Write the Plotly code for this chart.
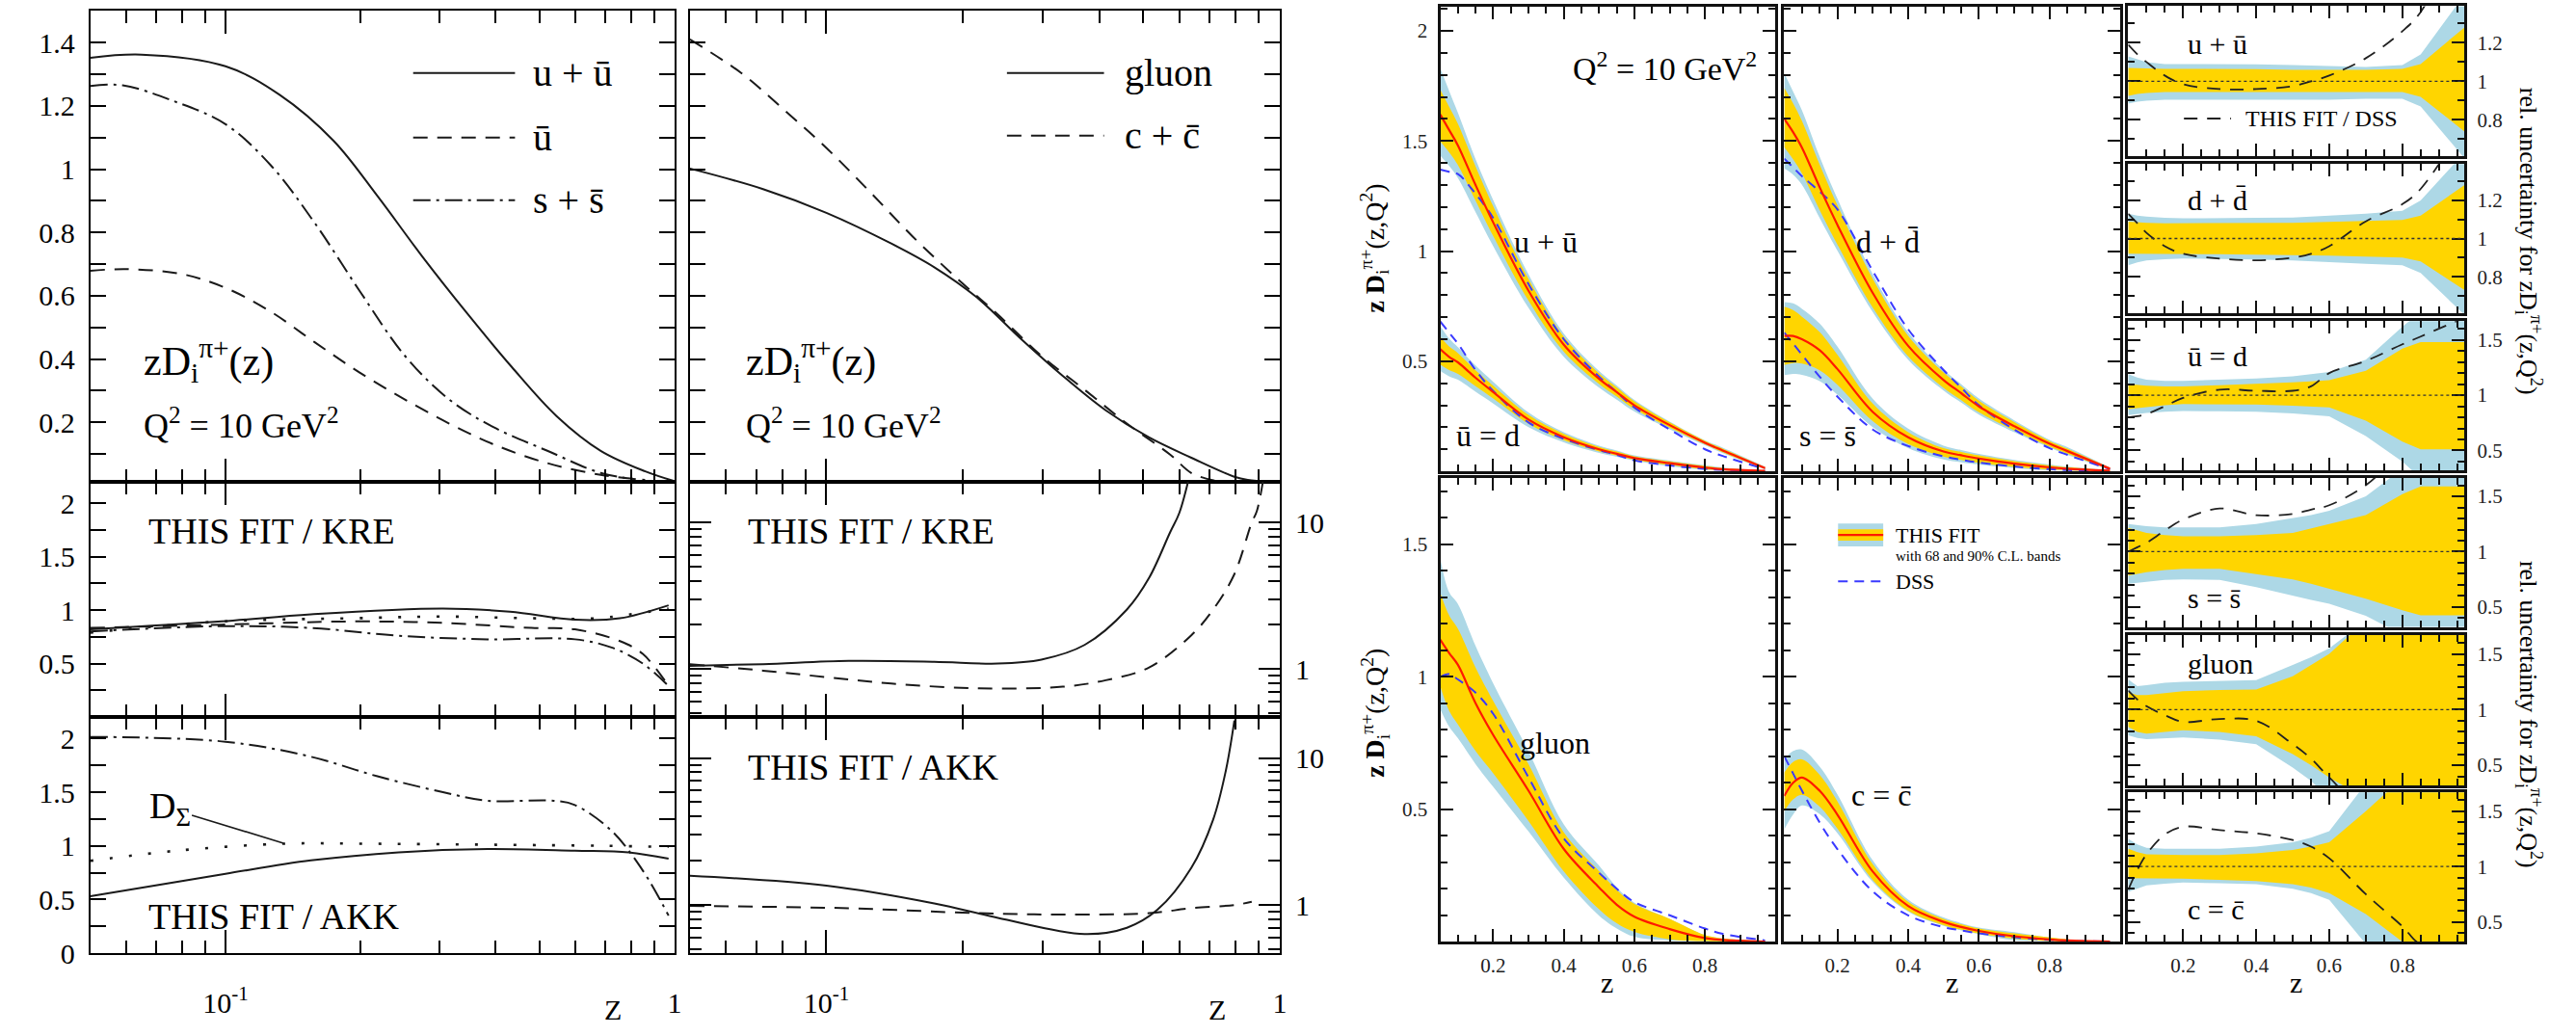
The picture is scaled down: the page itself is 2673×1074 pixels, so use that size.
import numpy as np
import plotly.graph_objects as go

W, H = 2673, 1074
SERIF = "Liberation Serif"

# ======================= LEFT FIGURE DATA =======================
# top-left panel: zD_i^{pi+}(z), Q^2 = 10 GeV^2
z_uu_top = [0.05, 0.065, 0.1, 0.132, 0.174, 0.218, 0.274, 0.345, 0.434, 0.546, 0.685, 0.861, 0.995]
uu_top = [1.352, 1.362, 1.325, 1.235, 1.09, 0.915, 0.725, 0.545, 0.375, 0.22, 0.11, 0.045, 0.015]
z_ub_top = [0.05, 0.0605, 0.0796, 0.1, 0.126, 0.158, 0.199, 0.251, 0.315, 0.396, 0.521, 0.685, 0.86]
ub_top = [0.679, 0.684, 0.669, 0.625, 0.55, 0.453, 0.357, 0.272, 0.196, 0.13, 0.071, 0.034, 0.018]
z_ss_top = [0.05, 0.059, 0.076, 0.1, 0.126, 0.158, 0.199, 0.251, 0.315, 0.396, 0.521, 0.685, 0.82]
ss_top = [1.263, 1.265, 1.217, 1.142, 1.013, 0.83, 0.615, 0.41, 0.272, 0.184, 0.11, 0.04, 0.02]
# top-right panel
z_g_top = [0.05, 0.0725, 0.1, 0.139, 0.173, 0.215, 0.268, 0.332, 0.413, 0.515, 0.638, 0.794, 0.85, 0.95]
g_top = [1.002, 0.937, 0.862, 0.765, 0.69, 0.594, 0.465, 0.347, 0.238, 0.152, 0.088, 0.028, 0.018, 0.012]
z_c_top = [0.05, 0.065, 0.081, 0.1, 0.125, 0.155, 0.193, 0.239, 0.298, 0.371, 0.46, 0.573, 0.638, 0.72]
c_top = [1.41, 1.303, 1.185, 1.067, 0.927, 0.787, 0.658, 0.54, 0.41, 0.303, 0.196, 0.098, 0.04, 0.015]

# THIS FIT / KRE (light flavours)
z_kre_uu = [0.05, 0.098, 0.155, 0.305, 0.43, 0.60, 0.756, 0.97]
kre_uu = [0.82, 0.894, 0.96, 1.015, 0.985, 0.91, 0.924, 1.045]
z_kre_ub = [0.05, 0.098, 0.194, 0.305, 0.48, 0.60, 0.756, 0.85, 0.97]
kre_ub = [0.833, 0.864, 0.894, 0.88, 0.833, 0.82, 0.71, 0.59, 0.29]
z_kre_ss = [0.05, 0.098, 0.155, 0.243, 0.383, 0.60, 0.724, 0.85, 0.97]
kre_ss = [0.80, 0.85, 0.833, 0.76, 0.727, 0.727, 0.65, 0.50, 0.29]
z_kre_sig = [0.05, 0.098, 0.194, 0.305, 0.48, 0.67, 0.97]
kre_sig = [0.79, 0.894, 0.924, 0.94, 0.924, 0.924, 1.015]
# THIS FIT / AKK (light flavours)
z_akk_ss = [0.05, 0.1, 0.155, 0.217, 0.305, 0.383, 0.538, 0.60, 0.724, 0.85, 0.97]
akk_ss = [2.015, 1.97, 1.83, 1.65, 1.50, 1.42, 1.42, 1.38, 1.14, 0.77, 0.35]
z_akk_sig = [0.05, 0.078, 0.135, 0.2, 0.4, 0.7, 0.97]
akk_sig = [0.86, 0.955, 1.02, 1.02, 1.01, 1.0, 0.99]
z_akk_uu = [0.05, 0.1, 0.155, 0.243, 0.383, 0.60, 0.79, 0.97]
akk_uu = [0.53, 0.74, 0.864, 0.94, 0.97, 0.955, 0.94, 0.88]
# THIS FIT / KRE (gluon, charm), log scale
z_kre_g = [0.05, 0.0725, 0.112, 0.173, 0.239, 0.298, 0.371, 0.46, 0.515, 0.573, 0.6, 0.63]
kre_g = [1.05, 1.08, 1.135, 1.12, 1.09, 1.16, 1.46, 2.55, 4.2, 8.6, 11.6, 20.0]
z_kre_c = [0.05, 0.0725, 0.1, 0.139, 0.215, 0.332, 0.413, 0.515, 0.638, 0.713, 0.794, 0.867, 0.89, 0.92]
kre_c = [1.08, 0.975, 0.88, 0.796, 0.738, 0.757, 0.838, 1.025, 1.7, 2.55, 4.45, 10.0, 12.0, 20.0]
# THIS FIT / AKK (gluon, charm)
z_akk_g = [0.05, 0.1, 0.173, 0.239, 0.371, 0.46, 0.537, 0.638, 0.713, 0.76, 0.794]
akk_g = [1.58, 1.355, 1.025, 0.817, 0.634, 0.70, 0.927, 1.79, 3.82, 8.17, 18.0]
z_akk_c = [0.05, 0.112, 0.215, 0.332, 0.515, 0.638, 0.794, 0.867]
akk_c = [0.985, 0.95, 0.88, 0.86, 0.88, 0.95, 1.0, 1.05]

# ======================= RIGHT FIGURE DATA =======================
Z = [0.05, 0.075, 0.1, 0.15, 0.2, 0.3, 0.4, 0.5, 0.55, 0.6, 0.7, 0.8, 0.85, 0.97]
# central values (THIS FIT)
uu_c = [1.62, 1.55, 1.48, 1.30, 1.13, 0.82, 0.575, 0.42, 0.36, 0.30, 0.21, 0.13, 0.095, 0.015]
dd_c = [1.60, 1.54, 1.47, 1.29, 1.12, 0.81, 0.57, 0.415, 0.355, 0.295, 0.205, 0.125, 0.092, 0.012]
ud_c = [0.555, 0.52, 0.495, 0.425, 0.36, 0.235, 0.155, 0.10, 0.08, 0.06, 0.037, 0.017, 0.01, 0.002]
ss_c = [0.615, 0.615, 0.60, 0.55, 0.465, 0.27, 0.155, 0.09, 0.073, 0.058, 0.035, 0.018, 0.012, 0.003]
g_c = [1.14, 1.09, 1.045, 0.90, 0.78, 0.57, 0.35, 0.205, 0.14, 0.095, 0.048, 0.014, 0.007, 0.001]
c_c = [0.55, 0.60, 0.62, 0.57, 0.48, 0.265, 0.135, 0.075, 0.056, 0.041, 0.021, 0.009, 0.005, 0.001]
# DSS
uu_dss = [1.37, 1.36, 1.35, 1.26, 1.15, 0.85, 0.60, 0.43, 0.36, 0.29, 0.19, 0.10, 0.07, 0.01]
dd_dss = [1.42, 1.38, 1.34, 1.27, 1.19, 0.91, 0.645, 0.46, 0.38, 0.30, 0.19, 0.105, 0.075, 0.01]
ud_dss = [0.68, 0.63, 0.58, 0.46, 0.365, 0.222, 0.148, 0.096, 0.075, 0.05, 0.027, 0.011, 0.007, 0.001]
ss_dss = [0.63, 0.58, 0.53, 0.43, 0.34, 0.19, 0.115, 0.068, 0.053, 0.04, 0.022, 0.01, 0.006, 0.001]
g_dss = [1.0, 1.01, 0.99, 0.94, 0.86, 0.62, 0.39, 0.26, 0.20, 0.15, 0.10, 0.05, 0.03, 0.005]
c_dss = [0.70, 0.635, 0.57, 0.45, 0.35, 0.19, 0.10, 0.055, 0.043, 0.032, 0.017, 0.007, 0.004, 0.001]
# THIS FIT / DSS
uu_r = [1.19, 1.14, 1.10, 1.03, 0.985, 0.96, 0.96, 0.975, 1.0, 1.03, 1.12, 1.26, 1.36, 1.8]
dd_r = [1.13, 1.08, 1.03, 0.96, 0.92, 0.895, 0.886, 0.90, 0.92, 0.96, 1.09, 1.18, 1.26, 1.6]
ud_r = [0.80, 0.81, 0.83, 0.90, 0.975, 1.05, 1.04, 1.04, 1.08, 1.20, 1.31, 1.46, 1.53, 1.7]
ss_r = [1.0, 1.04, 1.08, 1.19, 1.29, 1.39, 1.33, 1.34, 1.38, 1.42, 1.60, 1.9, 2.0, 2.0]
g_r = [1.17, 1.09, 1.03, 0.95, 0.89, 0.915, 0.90, 0.69, 0.56, 0.39, 0.1, 0.1, 0.1, 0.1]
c_r = [0.79, 0.97, 1.11, 1.29, 1.36, 1.33, 1.30, 1.24, 1.18, 1.075, 0.75, 0.46, 0.3, 0.3]
# relative uncertainty bands: 90% (blue) and 68% (yellow)
uu_b_hi = [1.13, 1.115, 1.10, 1.09, 1.09, 1.09, 1.088, 1.085, 1.083, 1.08, 1.075, 1.085, 1.14, 1.45]
uu_y_hi = [1.07, 1.068, 1.066, 1.065, 1.065, 1.065, 1.063, 1.06, 1.06, 1.06, 1.06, 1.065, 1.09, 1.28]
uu_y_lo = [0.925, 0.935, 0.94, 0.945, 0.945, 0.945, 0.945, 0.945, 0.945, 0.945, 0.945, 0.945, 0.92, 0.74]
uu_b_lo = [0.885, 0.895, 0.90, 0.905, 0.905, 0.905, 0.905, 0.905, 0.905, 0.905, 0.91, 0.91, 0.87, 0.60]
dd_b_hi = [1.13, 1.12, 1.115, 1.108, 1.106, 1.106, 1.108, 1.11, 1.115, 1.12, 1.13, 1.145, 1.2, 1.45]
dd_y_hi = [1.088, 1.085, 1.082, 1.08, 1.08, 1.08, 1.08, 1.082, 1.085, 1.088, 1.092, 1.097, 1.12, 1.28]
dd_y_lo = [0.92, 0.92, 0.92, 0.92, 0.92, 0.918, 0.916, 0.914, 0.912, 0.91, 0.905, 0.90, 0.88, 0.73]
dd_b_lo = [0.86, 0.875, 0.885, 0.892, 0.895, 0.893, 0.89, 0.885, 0.88, 0.875, 0.868, 0.86, 0.82, 0.60]
ud_b_hi = [1.19, 1.16, 1.14, 1.13, 1.13, 1.14, 1.15, 1.17, 1.19, 1.21, 1.32, 1.62, 1.75, 1.75]
ud_y_hi = [1.10, 1.09, 1.085, 1.08, 1.08, 1.09, 1.10, 1.115, 1.125, 1.135, 1.22, 1.42, 1.48, 1.48]
ud_y_lo = [0.875, 0.885, 0.895, 0.91, 0.92, 0.92, 0.915, 0.905, 0.90, 0.89, 0.77, 0.58, 0.51, 0.51]
ud_b_lo = [0.82, 0.83, 0.84, 0.85, 0.856, 0.855, 0.85, 0.835, 0.825, 0.81, 0.63, 0.40, 0.25, 0.25]
ss_b_hi = [1.25, 1.24, 1.23, 1.22, 1.22, 1.22, 1.25, 1.30, 1.33, 1.37, 1.50, 1.75, 1.8, 1.8]
ss_y_hi = [1.215, 1.19, 1.17, 1.15, 1.14, 1.14, 1.15, 1.17, 1.21, 1.25, 1.33, 1.52, 1.59, 1.59]
ss_y_lo = [0.785, 0.80, 0.815, 0.835, 0.845, 0.845, 0.80, 0.75, 0.71, 0.665, 0.575, 0.47, 0.425, 0.425]
ss_b_lo = [0.71, 0.72, 0.73, 0.745, 0.75, 0.745, 0.68, 0.60, 0.565, 0.53, 0.42, 0.25, 0.2, 0.2]
g_b_hi = [1.27, 1.21, 1.22, 1.24, 1.25, 1.26, 1.265, 1.40, 1.47, 1.55, 1.8, 1.8, 1.8, 1.8]
g_y_hi = [1.155, 1.13, 1.13, 1.15, 1.165, 1.175, 1.18, 1.30, 1.40, 1.5, 1.8, 1.8, 1.8, 1.8]
g_y_lo = [0.845, 0.80, 0.785, 0.80, 0.815, 0.80, 0.76, 0.60, 0.50, 0.39, 0.2, 0.2, 0.2, 0.2]
g_b_lo = [0.77, 0.745, 0.735, 0.745, 0.75, 0.73, 0.69, 0.48, 0.36, 0.2, 0.1, 0.1, 0.1, 0.1]
c_b_hi = [1.25, 1.20, 1.17, 1.16, 1.16, 1.16, 1.18, 1.22, 1.26, 1.32, 1.75, 1.8, 1.8, 1.8]
c_y_hi = [1.16, 1.13, 1.11, 1.105, 1.105, 1.105, 1.12, 1.15, 1.18, 1.22, 1.50, 1.8, 1.8, 1.8]
c_y_lo = [0.895, 0.895, 0.895, 0.895, 0.89, 0.88, 0.87, 0.84, 0.81, 0.76, 0.57, 0.32, 0.2, 0.2]
c_b_lo = [0.77, 0.80, 0.83, 0.845, 0.855, 0.85, 0.84, 0.80, 0.76, 0.70, 0.30, 0.2, 0.2, 0.2]

# ======================= STYLE =======================
INK = "#1a1a1a"
BLUE_BAND = "#ADD8E6"
YELLOW_BAND = "#FFD500"
RED = "#ff1a00"
DSS_BLUE = "#3a3aff"
DASH = "15px,10px"
DASHDOT = "18px,6px,3px,6px"
DOTS = "3px,17px"

fig = go.Figure()


def xa(n):
    return "x" if n == 1 else f"x{n}"


def ya(n):
    return "y" if n == 1 else f"y{n}"


def line(n, x, y, color=INK, width=2.0, dash="solid", shape="spline"):
    fig.add_trace(go.Scatter(x=x, y=y, mode="lines", xaxis=xa(n), yaxis=ya(n),
                             line=dict(color=color, width=width, dash=dash, shape=shape),
                             showlegend=False, hoverinfo="skip"))


def band(n, x, lo, hi, color, shape):
    fig.add_trace(go.Scatter(x=x, y=lo, mode="lines", xaxis=xa(n), yaxis=ya(n),
                             line=dict(color=color, width=0, shape=shape),
                             showlegend=False, hoverinfo="skip"))
    fig.add_trace(go.Scatter(x=x, y=hi, mode="lines", xaxis=xa(n), yaxis=ya(n),
                             line=dict(color=color, width=0, shape=shape), fill="tonexty",
                             fillcolor=color, showlegend=False, hoverinfo="skip"))


# ---------------- left figure traces ----------------
line(1, z_uu_top, uu_top)
line(1, z_ub_top, ub_top, dash=DASH)
line(1, z_ss_top, ss_top, dash=DASHDOT)
line(2, z_g_top, g_top)
line(2, z_c_top, c_top, dash=DASH)
line(3, z_kre_uu, kre_uu)
line(3, z_kre_ub, kre_ub, dash=DASH)
line(3, z_kre_ss, kre_ss, dash=DASHDOT)
line(3, z_kre_sig, kre_sig, dash=DOTS, width=2.6)
line(5, z_akk_ss, akk_ss, dash=DASHDOT)
line(5, z_akk_sig, akk_sig, dash=DOTS, width=2.6)
line(5, z_akk_uu, akk_uu)
line(4, z_kre_g, kre_g)
line(4, z_kre_c, kre_c, dash=DASH)
line(6, z_akk_g, akk_g)
line(6, z_akk_c, akk_c, dash=DASH)

# ---------------- right figure traces ----------------
flav = {
    "uu": (uu_c, uu_dss, uu_r, uu_b_lo, uu_b_hi, uu_y_lo, uu_y_hi),
    "dd": (dd_c, dd_dss, dd_r, dd_b_lo, dd_b_hi, dd_y_lo, dd_y_hi),
    "ud": (ud_c, ud_dss, ud_r, ud_b_lo, ud_b_hi, ud_y_lo, ud_y_hi),
    "ss": (ss_c, ss_dss, ss_r, ss_b_lo, ss_b_hi, ss_y_lo, ss_y_hi),
    "g": (g_c, g_dss, g_r, g_b_lo, g_b_hi, g_y_lo, g_y_hi),
    "c": (c_c, c_dss, c_r, c_b_lo, c_b_hi, c_y_lo, c_y_hi),
}
rel_panel = {"uu": 11, "dd": 12, "ud": 13, "ss": 14, "g": 15, "c": 16}

for panel, keys in [(7, ["uu", "ud"]), (8, ["dd", "ss"]), (9, ["g"]), (10, ["c"])]:
    for k in keys:
        cen, dss, r, blo, bhi, ylo, yhi = flav[k]
        cen = np.array(cen)
        band(panel, Z, cen * np.array(blo), cen * np.array(bhi), BLUE_BAND, "spline")
        band(panel, Z, cen * np.array(ylo), cen * np.array(yhi), YELLOW_BAND, "spline")
    for k in keys:
        cen, dss, *_ = flav[k]
        line(panel, Z, dss, color=DSS_BLUE, width=2.0, dash="10px,7px")
        line(panel, Z, cen, color=RED, width=2.2)

for k, panel in rel_panel.items():
    cen, dss, r, blo, bhi, ylo, yhi = flav[k]
    band(panel, Z, blo, bhi, BLUE_BAND, "linear")
    band(panel, Z, ylo, yhi, YELLOW_BAND, "linear")
    line(panel, Z, r, color="#222222", width=1.8, dash="14px,10px")
    fig.add_shape(type="line", xref=f"x{panel} domain", yref=f"y{panel}", x0=0, x1=1, y0=1, y1=1,
                  line=dict(color="#333333", width=1.3, dash="dot"))

# ======================= AXES =======================
layout = {}


def dom_x(x0, x1):
    return [x0 / W, x1 / W]


def dom_y(top, bottom):
    return [1 - bottom / H, 1 - top / H]


def key(kind, n):
    return f"{kind}axis" if n == 1 else f"{kind}axis{n}"


LX_MINOR = [0.05, 0.06, 0.07, 0.08, 0.09, 0.2, 0.3, 0.4, 0.5, 0.6, 0.7, 0.8, 0.9]


def left_x(n, dom, show):
    return dict(domain=dom, anchor=ya(n), type="log", range=[np.log10(0.05), 0],
                tickmode="array", tickvals=[0.1, 1], ticktext=["10<sup>-1</sup>", "1"],
                showticklabels=show, ticks="inside", ticklen=24, tickwidth=1.6, tickcolor="black",
                minor=dict(tickmode="array", tickvals=LX_MINOR, ticks="inside", ticklen=13,
                           tickwidth=1.6, tickcolor="black"),
                showline=True, linewidth=2, linecolor="black", mirror="allticks",
                showgrid=False, zeroline=False, ticklabelstandoff=24,
                tickfont=dict(family=SERIF, size=30, color="black"))


def left_y_lin(n, dom, rng, vals, minor_vals, show):
    return dict(domain=dom, anchor=xa(n), range=rng, tickmode="array", tickvals=vals,
                ticktext=[("%g" % v) for v in vals], showticklabels=show,
                ticks="inside", ticklen=16, tickwidth=1.6, tickcolor="black",
                minor=dict(tickmode="array", tickvals=minor_vals, ticks="inside", ticklen=16,
                           tickwidth=1.6, tickcolor="black"),
                showline=True, linewidth=2, linecolor="black", mirror="allticks",
                showgrid=False, zeroline=False, ticklabelstandoff=8,
                tickfont=dict(family=SERIF, size=30, color="black"))


def left_y_log(n, dom):
    return dict(domain=dom, anchor=xa(n), type="log", range=[np.log10(0.47), np.log10(19.0)],
                side="right", tickmode="array", tickvals=[1, 10], ticktext=["1", "10"],
                ticks="inside", ticklen=22, tickwidth=1.6, tickcolor="black",
                minor=dict(tickmode="array", tickvals=[0.5, 0.6, 0.7, 0.8, 0.9, 2, 3, 4, 5, 6, 7, 8, 9],
                           ticks="inside", ticklen=12, tickwidth=1.6, tickcolor="black"),
                showline=True, linewidth=2, linecolor="black", mirror="allticks",
                showgrid=False, zeroline=False, ticklabelstandoff=8,
                tickfont=dict(family=SERIF, size=30, color="black"))


C1 = dom_x(94, 702)
C2 = dom_x(718, 1332)
R_TOP = dom_y(11.5, 508)
R_MID = dom_y(508, 756)
R_BOT = dom_y(756, 1005)

top_vals = [0.2, 0.4, 0.6, 0.8, 1.0, 1.2, 1.4]
top_minor = [0.1, 0.3, 0.5, 0.7, 0.9, 1.1, 1.3]
layout[key("x", 1)] = left_x(1, C1, False)
layout[key("y", 1)] = left_y_lin(1, R_TOP, [0.012, 1.5], top_vals, top_minor, True)
layout[key("x", 2)] = left_x(2, C2, False)
layout[key("y", 2)] = left_y_lin(2, R_TOP, [0.012, 1.5], top_vals, top_minor, False)
layout[key("x", 3)] = left_x(3, C1, False)
layout[key("y", 3)] = left_y_lin(3, R_MID, [0, 2.2], [0.5, 1, 1.5, 2], [0.25, 0.75, 1.25, 1.75], True)
layout[key("x", 4)] = left_x(4, C2, False)
layout[key("y", 4)] = left_y_log(4, R_MID)
layout[key("x", 5)] = left_x(5, C1, True)
layout[key("y", 5)] = left_y_lin(5, R_BOT, [0, 2.2], [0, 0.5, 1, 1.5, 2], [0.25, 0.75, 1.25, 1.75], True)
layout[key("x", 6)] = left_x(6, C2, True)
layout[key("y", 6)] = left_y_log(6, R_BOT)


def right_x(n, dom, rng, show):
    return dict(domain=dom, anchor=ya(n), range=rng, tickmode="array",
                tickvals=[0.2, 0.4, 0.6, 0.8], ticktext=["0.2", "0.4", "0.6", "0.8"],
                showticklabels=show, ticks="inside", ticklen=13, tickwidth=2, tickcolor="#111",
                minor=dict(tickmode="linear", tick0=0, dtick=0.05, ticks="inside", ticklen=7,
                           tickwidth=2, tickcolor="#111"),
                showline=True, linewidth=3, linecolor="#111", mirror="allticks",
                showgrid=False, zeroline=False, ticklabelstandoff=4,
                tickfont=dict(family=SERIF, size=21, color="#222"))


def right_y(n, dom, rng, vals, show, side="left"):
    return dict(domain=dom, anchor=xa(n), range=rng, tickmode="array", tickvals=vals,
                ticktext=[("%g" % v) for v in vals], showticklabels=show, side=side,
                ticks="inside", ticklen=13, tickwidth=2, tickcolor="#111",
                minor=dict(tickmode="linear", tick0=0, dtick=0.1, ticks="inside", ticklen=7,
                           tickwidth=2, tickcolor="#111"),
                showline=True, linewidth=3, linecolor="#111", mirror="allticks",
                showgrid=False, zeroline=False, ticklabelstandoff=6,
                tickfont=dict(family=SERIF, size=21, color="#222"))


CA = dom_x(1499, 1848)
CB = dom_x(1857, 2207)
CC = dom_x(2215, 2565)
RA_TOP = dom_y(7, 497)
RA_BOT = dom_y(504, 993)
XR_AB = [0.05, 1.0]
XR_C = [0.05, 0.97]
layout[key("x", 7)] = right_x(7, CA, XR_AB, False)
layout[key("y", 7)] = right_y(7, RA_TOP, [0, 2.11], [0.5, 1, 1.5, 2], True)
layout[key("x", 8)] = right_x(8, CB, XR_AB, False)
layout[key("y", 8)] = right_y(8, RA_TOP, [0, 2.11], [0.5, 1, 1.5, 2], False)
layout[key("x", 9)] = right_x(9, CA, XR_AB, True)
layout[key("y", 9)] = right_y(9, RA_BOT, [0, 1.75], [0.5, 1, 1.5], True)
layout[key("x", 10)] = right_x(10, CB, XR_AB, True)
layout[key("y", 10)] = right_y(10, RA_BOT, [0, 1.75], [0.5, 1, 1.5], False)

c_rows = [(6.5, 165), (173, 330), (338.5, 496), (503.5, 661), (669.5, 828), (835.5, 993)]
for i, (t, b) in enumerate(c_rows):
    n = 11 + i
    layout[key("x", n)] = right_x(n, CC, XR_C, i == 5)
    if i < 2:
        layout[key("y", n)] = right_y(n, dom_y(t, b), [0.61, 1.39], [0.8, 1, 1.2], True, side="right")
    else:
        layout[key("y", n)] = right_y(n, dom_y(t, b), [0.32, 1.67], [0.5, 1, 1.5], True, side="right")

fig.update_layout(**layout)

# ======================= TEXT & KEYS =======================


def text(x, y, s, size, xanchor="left", angle=0, color="black", family=SERIF):
    fig.add_annotation(x=x / W, y=1 - y / H, xref="paper", yref="paper", text=s, showarrow=False,
                       font=dict(family=family, size=size, color=color), xanchor=xanchor,
                       yanchor="middle", textangle=angle)


def keyline(x0, x1, y, color, width, dash):
    fig.add_shape(type="line", xref="paper", yref="paper", x0=x0 / W, x1=x1 / W,
                  y0=1 - y / H, y1=1 - y / H, line=dict(color=color, width=width, dash=dash))


def keyrect(x0, x1, y0, y1, color):
    fig.add_shape(type="rect", xref="paper", yref="paper", x0=x0 / W, x1=x1 / W,
                  y0=1 - y1 / H, y1=1 - y0 / H, fillcolor=color, line=dict(width=0))


# left figure legends
keyline(430, 536, 77, INK, 2, "solid")
keyline(430, 536, 145, INK, 2, DASH)
keyline(430, 536, 211, INK, 2, DASHDOT)
text(553, 77, "u + ū", 40)
text(553, 145, "ū", 40)
text(553, 211, "s + s\u0304", 40)
keyline(1048, 1149, 77, INK, 2, "solid")
keyline(1048, 1149, 143, INK, 2, DASH)
text(1168, 77, "gluon", 40)
text(1168, 143, "c + c\u0304", 40)

for x0 in (147, 774):
    text(x0, 380, "zD<sub>i</sub><sup>π+</sup>(z)", 42)
    text(x0, 447, "Q<sup>2</sup> = 10 GeV<sup>2</sup>", 36)
text(152, 560, "THIS FIT / KRE", 38)
text(776, 560, "THIS FIT / KRE", 38)
text(152, 966, "THIS FIT / AKK", 38)
text(776, 809, "THIS FIT / AKK", 38)
fig.add_annotation(x=295 / W, y=1 - 889 / H, xref="paper", yref="paper", text="D<sub>Σ</sub>",
                   showarrow=True, arrowhead=0, arrowwidth=1.6, arrowcolor=INK, ax=-118, ay=-36,
                   font=dict(family=SERIF, size=38, color="black"))
text(638, 1064, "Z", 30, xanchor="center")
text(1267, 1064, "Z", 30, xanchor="center")

# right figure labels
text(1733, 70, "Q<sup>2</sup> = 10 GeV<sup>2</sup>", 34, xanchor="center")
text(1574, 255, "u + ū", 32)
text(1514, 459, "ū = d", 32)
text(1930, 255, "d + d\u0304", 32)
text(1871, 459, "s = s\u0304", 32)
text(1580, 783, "gluon", 32)
text(1925, 838, "c = c\u0304", 32)
text(2275, 46, "u + ū", 30)
text(2275, 211, "d + d\u0304", 30)
text(2275, 375, "ū = d", 30)
text(2275, 630, "s = s\u0304", 30)
text(2275, 700, "gluon", 30)
text(2275, 959, "c = c\u0304", 30)
keyline(2273, 2322, 125, "#222222", 1.8, "14px,10px")
text(2335, 125, "THIS FIT / DSS", 24)

# band legend
keyrect(1913, 1960, 552, 576, BLUE_BAND)
keyrect(1913, 1960, 558, 570, YELLOW_BAND)
keyline(1913, 1960, 564, RED, 2.2, "solid")
text(1971, 564, "THIS FIT", 22)
text(1971, 586, "with 68 and 90% C.L. bands", 15)
keyline(1913, 1960, 613, DSS_BLUE, 2.0, "10px,7px")
text(1971, 613, "DSS", 22)

# axis titles
ytitle = "<b>z D</b><sub>i</sub><sup>π+</sup>(z,Q<sup>2</sup>)"
text(1431, 262, ytitle, 28, xanchor="center", angle=-90)
text(1431, 752, ytitle, 28, xanchor="center", angle=-90)
rtitle = "rel. uncertainty for zD<sub>i</sub><sup>π+</sup>(z,Q<sup>2</sup>)"
text(2632, 254, rtitle, 26, xanchor="center", angle=90)
text(2632, 753, rtitle, 26, xanchor="center", angle=90)
for xc in (1673, 2032, 2390):
    text(xc, 1036, "z", 30, xanchor="center")

fig.update_layout(width=W, height=H, margin=dict(l=0, r=0, t=0, b=0),
                  paper_bgcolor="white", plot_bgcolor="white", showlegend=False,
                  font=dict(family=SERIF, color="black"))

fig.write_html("out.html", config={"displayModeBar": False},
               post_script="document.body.style.margin='0';")
